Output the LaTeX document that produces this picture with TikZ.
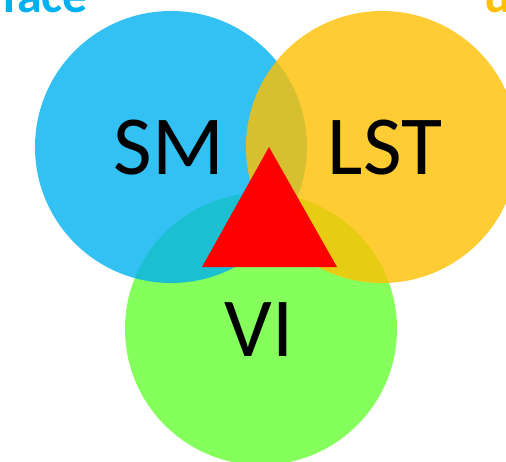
\documentclass[tikz,border=0pt]{standalone}
\usepackage{fontspec}
\setmainfont{Carlito}
\definecolor{cblue}{HTML}{00B0F0}
\definecolor{corange}{HTML}{FFC000}
\definecolor{cgreen}{HTML}{66FF33}
\begin{document}
\begin{tikzpicture}[x=1bp,y=-1bp,
  venn/.style={circle, minimum size=272bp, inner sep=0pt, fill opacity=0.8, draw=none},
  lab/.style={font=\fontsize{84bp}{90bp}\selectfont, text=black, inner sep=0pt, anchor=center}]
\useasboundingbox (0,0) rectangle (506,462);
\begin{scope}
\clip (0,0) rectangle (506,462);
\node[venn, fill=cgreen] (vi) at (261,329) {};
\node[venn, fill=cblue] (sm) at (171,147) {};
\node[venn, fill=corange] (lst) at (382,147) {};
\fill[red] (269,147) -- (337,267) -- (202,267) -- cycle;
\node[lab] (tsm) at (169,148) {SM};
\node[lab] (tlst) at (385,148) {LST};
\node[lab] (tvi) at (259,330) {VI};
\node[font=\bfseries\fontsize{50bp}{54bp}\selectfont, text=cblue, anchor=base east, inner sep=0pt] (face) at (88,13) {Surface};
\node[font=\bfseries\fontsize{50bp}{54bp}\selectfont, text=corange, anchor=base west, inner sep=0pt] (u) at (484,13) {u};
\end{scope}
\end{tikzpicture}
\end{document}
